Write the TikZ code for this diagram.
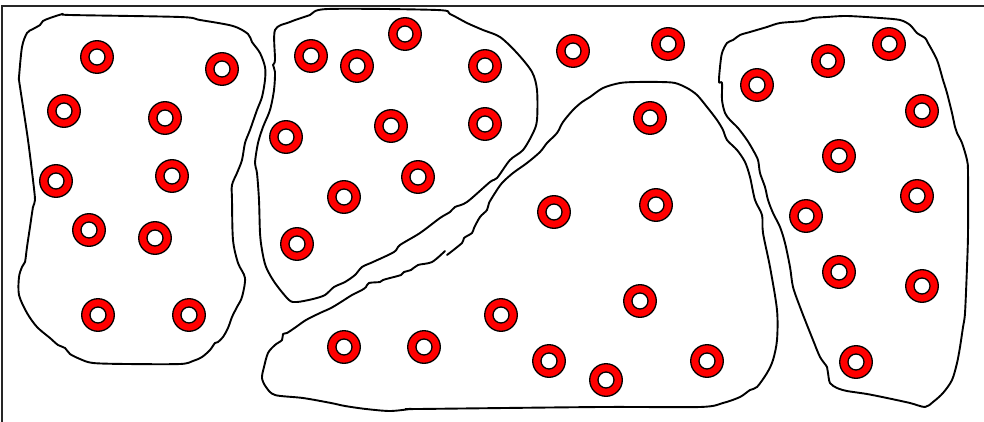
\documentclass[tikz,border=0pt]{standalone}
\begin{document}
\begin{tikzpicture}[x=1pt,y=-1pt,
  blob/.style={draw=black, line width=1.9pt, line join=round, line cap=round},
  ring/.style={circle, draw=black, fill=red, line width=1.3pt, minimum size=32.6pt, inner sep=0pt,
    path picture={\draw[black, fill=white, line width=1.3pt] (path picture bounding box.center) circle (8pt);}},
  frameline/.style={draw=black!85, line width=2pt}]
\useasboundingbox (0,0) rectangle (984,422);
% frame
\coordinate (fbl) at (2,430);
\coordinate (ftl) at (2,6);
\coordinate (ftr) at (990,6);
\draw[frameline] (fbl) -- (ftl) -- (ftr);
% left blob
\draw[blob] plot[smooth cycle, tension=0.5] coordinates {
(19,77) (22,47) (27,33) (33,29) (40,25) (43,21) (50,18) (63,14) (70,15) (180,17) (200,20) (233,26)
(248,34) (252,42) (260,53) (265,67) (265,80) (262,97) (257,110) (250,130) (245,143) (242,160)
(237,173) (232,185) (232,200) (233,240) (238,263) (245,278) (242,297) (237,307) (232,317)
(228,328) (223,337) (218,342) (215,343) (210,350) (202,357) (193,361) (180,364) (127,364)
(93,363) (80,359) (70,354) (65,348) (58,345) (50,338) (37,327) (27,313) (19,295) (19,277)
(22,267) (25,262) (27,247) (30,227) (33,207) (35,200) (33,180) (28,140) (22,100) (19,80)};
% upper middle blob
\draw[blob] plot[smooth cycle, tension=0.5] coordinates {
(275,30) (290,22) (310,15) (328,9) (437,10) (450,14) (467,23) (483,30) (500,37) (517,53)
(532,72) (537,90) (537,120) (533,133) (523,150) (510,160) (497,178) (490,182) (467,202)
(455,207) (450,212) (440,218) (420,233) (400,245) (394,252) (373,262) (362,267) (355,275)
(345,282) (334,287) (325,295) (313,299) (297,302) (289,300) (275,283) (266,267) (262,250)
(260,233) (259,200) (257,173) (255,163) (258,143) (263,127) (270,110) (274,90) (275,72)
(273,65) (275,60)};
% lower middle blob (open at a small gap)
\draw[blob] plot[smooth, tension=0.5] coordinates {
(447,255) (462,243) (464,238) (472,233) (474,228) (480,217) (487,210) (489,203) (495,193)
(502,183) (513,173) (527,163) (540,152) (547,143) (557,133) (563,122) (573,110) (582,102)
(590,97) (603,88) (620,83) (637,82) (660,82) (675,83) (687,88) (697,95) (707,107) (717,120)
(723,130) (727,140) (737,150) (745,162) (750,177) (755,200) (762,215) (763,233) (770,267)
(777,310) (777,340) (773,360) (767,373) (757,387) (750,390) (740,397) (723,403) (700,407)
(601,407) (418,409) (411,409) (390,411) (366,409) (345,406) (331,403) (303,398) (275,395)
(266,387) (262,378) (264,367) (268,353) (275,345) (282,340) (283,334) (287,333) (296,327)
(306,320) (320,313) (331,308) (341,302) (352,295) (362,290) (366,287) (369,283) (380,282)
(383,280) (390,278) (401,275) (404,272) (411,270) (418,265) (432,262) (445,251)};
% right blob
\draw[blob] plot[smooth cycle, tension=0.5] coordinates {
(719,82) (720,67) (722,53) (727,43) (733,40) (740,35) (750,32) (767,27) (780,23) (803,21)
(813,18) (827,17) (847,16) (880,18) (900,20) (910,25) (917,33) (925,38) (928,43) (937,60)
(943,80) (947,93) (952,113) (955,127) (957,133) (962,143) (967,160) (968,173) (968,233)
(967,267) (965,313) (963,327) (960,347) (957,363) (952,380) (943,393) (933,402) (925,407)
(910,403) (887,398) (867,394) (847,391) (837,388) (830,383) (828,373) (827,367) (820,357)
(813,340) (807,325) (800,307) (793,287) (790,267) (785,243) (780,227) (773,213) (768,200)
(765,187) (760,173) (758,160) (753,150) (747,140) (738,128) (730,120) (725,113) (722,100)
(722,83)};
% rings: left blob
\node[ring] (r1) at (97,57) {};
\node[ring] (r2) at (222,69) {};
\node[ring] (r3) at (64,111) {};
\node[ring] (r4) at (165,118) {};
\node[ring] (r5) at (56,181) {};
\node[ring] (r6) at (172,176) {};
\node[ring] (r7) at (89,230) {};
\node[ring] (r8) at (155,238) {};
\node[ring] (r9) at (98,315) {};
\node[ring] (r10) at (189,315) {};
% rings: upper middle blob
\node[ring] (r11) at (311,56) {};
\node[ring] (r12) at (357,66) {};
\node[ring] (r13) at (405,34) {};
\node[ring] (r14) at (485,66) {};
\node[ring] (r15) at (286,137) {};
\node[ring] (r16) at (391,126) {};
\node[ring] (r17) at (485,124) {};
\node[ring] (r18) at (418,177) {};
\node[ring] (r19) at (344,197) {};
\node[ring] (r20) at (297,244) {};
% rings: free
\node[ring] (r21) at (573,51) {};
\node[ring] (r22) at (668,44) {};
% rings: lower middle blob
\node[ring] (r23) at (650,118) {};
\node[ring] (r24) at (554,212) {};
\node[ring] (r25) at (656,205) {};
\node[ring] (r26) at (344,347) {};
\node[ring] (r27) at (424,347) {};
\node[ring] (r28) at (501,315) {};
\node[ring] (r29) at (640,301) {};
\node[ring] (r30) at (549,361) {};
\node[ring] (r31) at (606,380) {};
\node[ring] (r32) at (707,361) {};
% rings: right blob
\node[ring] (r33) at (757,85) {};
\node[ring] (r34) at (828,61) {};
\node[ring] (r35) at (889,44) {};
\node[ring] (r36) at (922,111) {};
\node[ring] (r37) at (839,156) {};
\node[ring] (r38) at (917,196) {};
\node[ring] (r39) at (806,216) {};
\node[ring] (r40) at (839,272) {};
\node[ring] (r41) at (922,286) {};
\node[ring] (r42) at (856,362) {};
\end{tikzpicture}
\end{document}
